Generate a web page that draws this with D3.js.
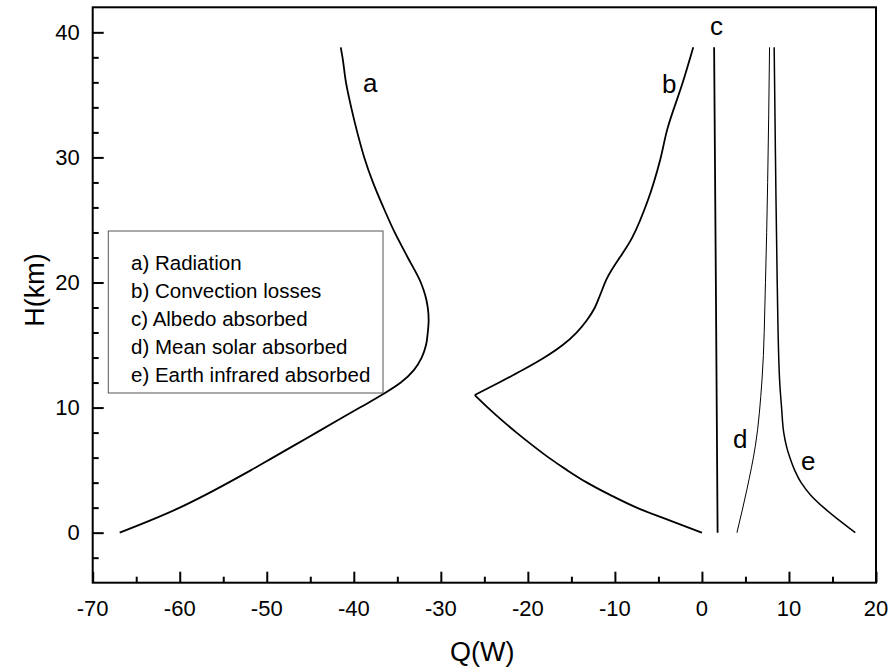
<!DOCTYPE html>
<html><head><meta charset="utf-8">
<script src="https://cdn.jsdelivr.net/npm/d3@7"></script>
<style>body{margin:0;background:#fff}svg{display:block}text{font-family:Arial,"Liberation Sans",sans-serif}</style>
</head><body>
<svg id="c" width="892" height="672"></svg>
<script>
// Curve a) Radiation: [Q, H]
const radiation = [[-66.9,0],[-63.3,1],[-60.0,2],[-57.1,3],[-54.4,4],[-51.8,5],[-49.3,6],[-46.8,7],[-44.3,8],[-41.8,9],[-39.3,10],[-36.8,11],[-34.6,12],[-33.1,13],[-32.2,14],[-31.7,15],[-31.5,16],[-31.4,17],[-31.5,18],[-31.8,19],[-32.3,20],[-33.8,22],[-35.3,24],[-36.6,26],[-37.8,28],[-38.8,30],[-39.6,32],[-40.3,34],[-40.9,36],[-41.3,38],[-41.5,38.8]];
// Curve b) Convection losses (lower branch, then upper branch from the cusp)
const convectionLow = [[0,0],[-3.8,1],[-7.5,2],[-10.5,3],[-13.2,4],[-15.5,5],[-17.6,6],[-19.5,7],[-21.3,8],[-23.0,9],[-24.6,10],[-26.1,11]];
const convectionUp = [[-26.1,11],[-23.3,12],[-20.6,13],[-18.1,14],[-16.0,15],[-14.4,16],[-13.2,17],[-12.3,18],[-11.7,19],[-11.0,20.2],[-8.0,23.6],[-6.2,26.6],[-4.8,29.8],[-4.0,32.2],[-2.2,36],[-1.0,38.8]];
// Curve c) Albedo absorbed
const albedo = [[1.8,0],[1.6,20],[1.4,38.8]];
// Curve d) Mean solar absorbed
const solar = [[4.02,0],[5.17,3.46],[6.13,6.9],[6.9,12.2],[7.3,20],[7.55,28],[7.77,38.8]];
// Curve e) Earth infrared absorbed
const infrared = [[17.62,0],[15.75,1],[14.0,2],[12.5,3],[11.4,4],[10.65,5],[10.1,6],[9.68,7],[9.4,8],[9.15,10],[8.92,12.25],[8.65,20],[8.45,30],[8.3,38.8]];
const legendItems = ["a) Radiation","b) Convection losses","c) Albedo absorbed","d) Mean solar absorbed","e) Earth infrared absorbed"];
const curveLabels = [["a",-38.1,35.2],["b",-3.75,35.15],["c",1.67,39.8],["d",4.4,6.8],["e",12.2,5.0]];
const xTicks = [-70,-60,-50,-40,-30,-20,-10,0,10,20];
const yTicks = [0,10,20,30,40];

const svg = d3.select("#c");
const L=92.7, R=876, T=7.3, B=582.7;
const x = d3.scaleLinear().domain([-70,20]).range([L,R]);
const y = d3.scaleLinear().domain([-4,42]).range([B,T]);

const line = d3.line().x(d=>x(d[0])).y(d=>y(d[1])).curve(d3.curveMonotoneY);
const lineLin = d3.line().x(d=>x(d[0])).y(d=>y(d[1]));
const draw = (d,w,f)=>svg.append("path").attr("d",(f||line)(d)).attr("fill","none").attr("stroke","#000").attr("stroke-width",w).attr("stroke-linejoin","round");
draw(radiation,1.8);
draw(convectionLow,1.8);
draw(convectionUp,1.8);
draw(albedo,1.8,lineLin);
draw(solar,1);
draw(infrared,1.5);

// axes (ticks inward)
const gx = svg.append("g").attr("transform",`translate(0,${B})`)
  .call(d3.axisBottom(x).tickValues(d3.range(-70,21,5)).tickSize(-11).tickFormat(""));
gx.selectAll(".tick line").attr("y2",d=>d%10===0?-11:-6).attr("stroke-width",2);
const gy = svg.append("g").attr("transform",`translate(${L},0)`)
  .call(d3.axisLeft(y).tickValues(d3.range(-2,42,2)).tickSize(-11).tickFormat(""));
gy.selectAll(".tick line").attr("x2",d=>d%10===0?11:6).attr("stroke-width",2);
svg.selectAll(".domain").remove();
svg.append("rect").attr("x",L).attr("y",T).attr("width",R-L).attr("height",B-T).attr("fill","none").attr("stroke","#000").attr("stroke-width",2);

svg.selectAll(".xt").data(xTicks).enter().append("text").attr("x",d=>x(d)).attr("y",B+33)
  .attr("text-anchor","middle").attr("font-size",22).text(d=>d);
svg.selectAll(".yt").data(yTicks).enter().append("text").attr("x",L-13).attr("y",d=>y(d)+7.5)
  .attr("text-anchor","end").attr("font-size",22).text(d=>d);

svg.append("text").attr("x",(L+R)/2-2).attr("y",661).attr("text-anchor","middle").attr("font-size",27).text("Q(W)");
svg.append("text").attr("transform","translate(44,290) rotate(-90)").attr("text-anchor","middle").attr("font-size",27).text("H(km)");

// legend
svg.append("rect").attr("x",108.3).attr("y",231).attr("width",274.7).attr("height",162).attr("fill","#fff").attr("stroke","#555").attr("stroke-width",1);
svg.selectAll(".lg").data(legendItems).enter().append("text").attr("x",131).attr("y",(d,i)=>270+i*28)
  .attr("font-size",20.5).text(d=>d);

svg.selectAll(".cl").data(curveLabels).enter().append("text").attr("x",d=>x(d[1])).attr("y",d=>y(d[2]))
  .attr("text-anchor","middle").attr("font-size",26).text(d=>d[0]);
</script>
</body></html>
